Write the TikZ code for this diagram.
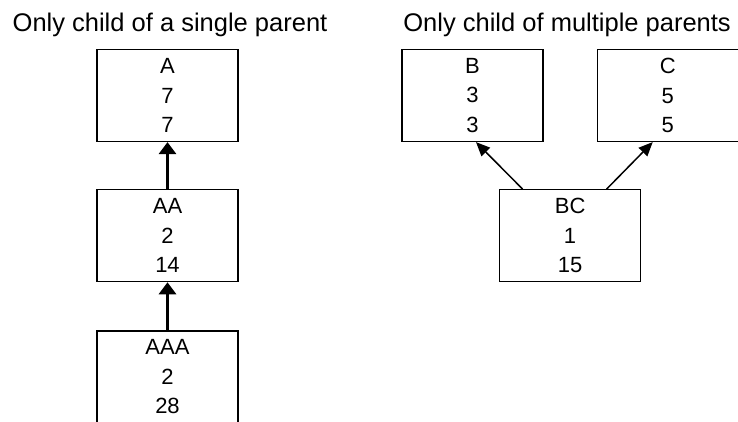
\documentclass[tikz,border=0pt]{standalone}
\usepackage{fontspec}
\setmainfont{Liberation Sans}
\usepackage{tikz}
\usetikzlibrary{positioning, calc}
\usetikzlibrary{arrows.meta}
\tikzset{>={Triangle[width=17pt,length=12pt]}}

\begin{document}
\begin{tikzpicture}[x=1pt, y=-1pt, boxnode/.style={rectangle, draw=black, line width=1.2pt, minimum width=141pt, minimum height=92pt, align=center, inner sep=0pt, font=\fontsize{22}{29.5}\selectfont}, textnode/.style={draw=none, fill=none, inner sep=0pt, font=\fontsize{25.5}{30}\selectfont}, thickarrow/.style={->, line width=3pt}, thinarrow/.style={-{Triangle[width=12pt,length=14pt]}, line width=1.5pt}]
    
    \useasboundingbox (0,0) rectangle (738,421);
    
    %Nodes
    \node[boxnode](A) at (167.5,95.5){A\\7\\7};
    \node[boxnode](AA)[below=47pt of A]{AA\\2\\14};
    \node[boxnode](AAA)[below=48pt of AA]{AAA\\2\\28};
    \node[boxnode](B) at (472.5,95.5){B\\3\\3};
    \node[boxnode](C)[right=53pt of B]{C\\5\\5};
    \node[boxnode](BC)[below=47pt of $(B.south)!0.5!(C.south)$]{BC\\1\\15};
    \node[textnode](single)[above=12pt of A, xshift=2.5pt]{Only child of a single parent};
    \node[textnode](multiple)[above=12pt of $(B.north)!0.5!(C.north)$, xshift=-3pt]{Only child of multiple parents};
    
    %Lines
    \draw[thickarrow] (AA.north) -- (A.south);
    \draw[thickarrow] (AAA.north) -- (AA.south);
    \draw[thinarrow] ([xshift=-47.5pt]BC.north) -- ([xshift=3.5pt]B.south);
    \draw[thinarrow] ([xshift=36.5pt]BC.north) -- ([xshift=-15pt]C.south);
    
    \end{tikzpicture}
\end{document}
